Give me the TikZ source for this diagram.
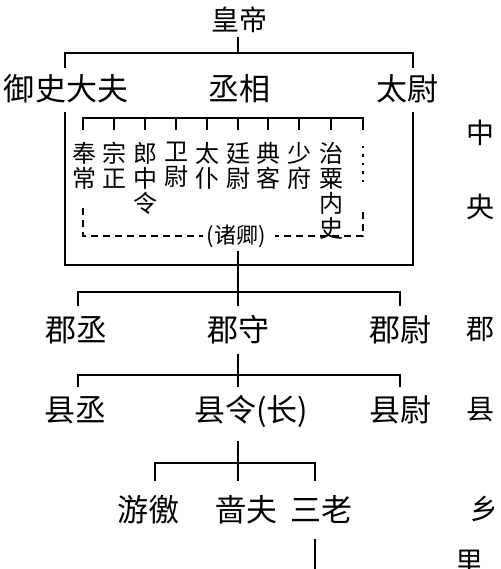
\documentclass[tikz,border=0pt]{standalone}
\usepackage{fontspec}
\setmainfont{Noto Sans CJK SC}

\tikzset{
  office/.style={inner sep=0pt, outer sep=8pt, text height=25pt, text depth=3pt,
    font=\fontsize{31}{31}\selectfont},
  minister/.style={inner sep=0pt, outer sep=12pt, anchor=north, align=center,
    font=\fontsize{24}{25}\selectfont},
  group/.style={inner sep=0pt, outer sep=4pt, text height=18pt, text depth=3.5pt,
    font=\fontsize{22}{22}\selectfont},
  level/.style={inner sep=0pt, text height=23pt, text depth=2.5pt,
    font=\fontsize{28}{28}\selectfont},
  brk/.style={line width=1.4pt, dash pattern=on 7pt off 5pt},
  dots/.style={line width=2.5pt, dash pattern=on 2.5pt off 6pt}
}

\begin{document}
\begin{tikzpicture}[x=1pt,y=-1pt,line width=1.8pt]
  \clip (0,0) rectangle (500,569);
  \path
    (239,20) node[office, outer sep=4pt, text height=23pt, text depth=2.5pt,
      font=\fontsize{28}{28}\selectfont] (hd){皇帝}
    (66,90) node[office] (ysdf){御史大夫}
    (239,90) node[office] (cx){丞相}
    (407,90) node[office] (tw){太尉};
  \path
    (84,130) node[minister] (c1){奉\\常}
    (114,130) node[minister] (c2){宗\\正}
    (145,130) node[minister] (c3){郎\\中\\令}
    (176,130) node[minister] (c4){卫\\尉}
    (207,130) node[minister] (c5){太\\仆}
    (238,130) node[minister] (c6){廷\\尉}
    (268,130) node[minister] (c7){典\\客}
    (299,130) node[minister] (c8){少\\府}
    (331,130) node[minister] (c9){治\\粟\\内\\史}
    (236,236) node[group] (zq){(诸卿)};
  \path
    (76,330) node[office, outer sep=10pt] (jc){郡丞}
    (238,330) node[office, outer sep=10pt] (js){郡守}
    (400,330) node[office, outer sep=10pt] (jw){郡尉}
    (75,410) node[office, outer sep=9pt] (xc){县丞}
    (251,410) node[office, outer sep=9pt] (xl){县令(长)}
    (400,410) node[office, outer sep=9pt] (xw){县尉}
    (148,510) node[office, outer sep=15pt] (yj){游徼}
    (246,510) node[office, outer sep=15pt] (sf){啬夫}
    (321,510) node[office, outer sep=15pt] (sl){三老};
  % levels on the right, cut at the edge
  \begin{scope}
    \clip (0,0) rectangle (493,569);
    \path
      (480,133) node[level] (lz1){中}
      (480,207) node[level] (lz2){央}
      (480,329) node[level] (lj){郡}
      (480,409) node[level] (lx){县}
      (484,509) node[level] (lyx){乡}
      (469,562) node[level] (lli){里};
  \end{scope}

  \coordinate (j1) at (238,53);
  \coordinate (bl) at (65,265);
  \coordinate (br) at (413,265);
  \coordinate (ib) at (83,118);
  \coordinate (dtop) at (363,130);
  \coordinate (d1) at (363,146);
  \coordinate (d2) at (363,186);
  \coordinate (dl) at (83,208);
  \coordinate (dr) at (363,212);
  \coordinate (j2) at (238,292);
  \coordinate (j2l) at (78,292);
  \coordinate (j2r) at (400,292);
  \coordinate (j3) at (238,375);
  \coordinate (j3l) at (78,375);
  \coordinate (j3r) at (400,375);
  \coordinate (j4) at (238,463);
  \coordinate (j4l) at (155,463);
  \coordinate (j4r) at (315,463);
  \coordinate (low) at (315,580);

  \begin{scope}[-]
    \draw (hd.south -| j1) -- (j1);
    \draw (ysdf.north -| bl) |- (j1) -| (tw.north -| br);
    \draw (ysdf.south -| bl) -- (bl) -- (br) -- (tw.south -| br);
    \draw (c1.north -| ib) -- (ib) -- (ib -| dtop) -- (dtop);
    \draw (c2.north) -- (c2.north |- ib);
    \draw (c3.north) -- (c3.north |- ib);
    \draw (c4.north) -- (c4.north |- ib);
    \draw (c5.north) -- (c5.north |- ib);
    \draw (c6.north) -- (c6.north |- ib);
    \draw (c7.north) -- (c7.north |- ib);
    \draw (c8.north) -- (c8.north |- ib);
    \draw (c9.north) -- (c9.north |- ib);
    \draw[dots] (d1) -- (d2);
    \draw[brk] (dl) |- (zq);
    \draw[brk, shorten >=6pt] (dr) |- (zq);
    \draw (zq.south -| j2) -- (j2) -- (js);
    \draw (jc.north -| j2l) |- (j2r) -- (jw.north);
    \draw (js) -- (j3) -- (j3 |- xl.north);
    \draw (xc.north -| j3l) |- (j3r) -- (xw.north);
    \draw[shorten <=8pt] (xl.south -| j4) -- (j4) -- (sf.north -| j4);
    \draw (yj.north -| j4l) |- (j4r) -- (sl.north -| j4r);
    \draw (sl.south -| j4r) -- (low);
  \end{scope}
\end{tikzpicture}
\end{document}
